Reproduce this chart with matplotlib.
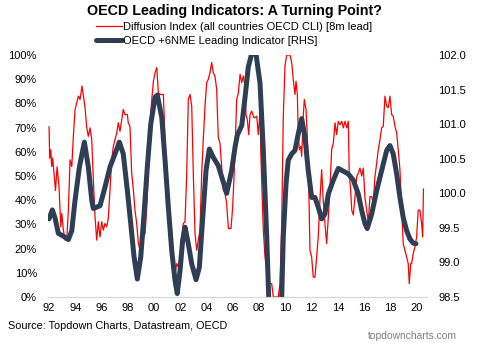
import matplotlib
matplotlib.use("Agg")
import matplotlib.pyplot as plt
from matplotlib.ticker import FuncFormatter

plt.rcParams['font.family'] = ['Liberation Sans', 'DejaVu Sans']

# diffusion index (% of countries)
diff_years = [1992.0, 1992.05, 1992.13, 1992.2, 1992.28, 1992.33, 1992.49, 1992.61, 1992.76,
              1992.89, 1992.97, 1993.09, 1993.22, 1993.35, 1993.47, 1993.6, 1993.73, 1993.85,
              1993.98, 1994.23, 1994.36, 1994.51, 1994.74, 1994.87, 1994.99, 1995.12, 1995.25,
              1995.37, 1995.5, 1995.63, 1995.75, 1995.88, 1996.01, 1996.13, 1996.26, 1996.39,
              1996.51, 1996.64, 1996.77, 1996.89, 1997.02, 1997.15, 1997.27, 1997.4, 1997.53,
              1997.65, 1997.78, 1997.96, 1998.03, 1998.16, 1998.29, 1998.42, 1998.54, 1998.67,
              1998.8, 1998.93, 1999.05, 1999.18, 1999.31, 1999.44, 1999.56, 1999.69, 1999.82,
              1999.94, 2000.07, 2000.2, 2000.32, 2000.45, 2000.7, 2000.83, 2000.96, 2001.08,
              2001.21, 2001.34, 2001.46, 2001.59, 2001.72, 2001.84, 2001.97, 2002.1, 2002.22,
              2002.35, 2002.48, 2002.6, 2002.73, 2002.86, 2002.98, 2003.11, 2003.24, 2003.36,
              2003.49, 2003.62, 2003.74, 2003.87, 2004.0, 2004.12, 2004.25, 2004.38, 2004.5,
              2004.63, 2004.76, 2004.88, 2005.01, 2005.14, 2005.26, 2005.39, 2005.52, 2005.65,
              2005.85, 2005.98, 2006.08, 2006.16, 2006.28, 2006.41, 2006.54, 2006.67, 2006.79,
              2006.92, 2006.99, 2007.09, 2007.2, 2007.3, 2007.43, 2007.6, 2007.81, 2007.93,
              2008.06, 2008.12, 2008.2, 2008.31, 2008.44, 2008.61, 2008.82, 2008.95, 2009.07,
              2009.45, 2009.58, 2009.71, 2009.83, 2009.96, 2010.09, 2010.34, 2010.47, 2010.59,
              2010.72, 2010.8, 2010.9, 2010.97, 2011.05, 2011.16, 2011.23, 2011.35, 2011.43,
              2011.56, 2011.66, 2011.76, 2011.86, 2011.99, 2012.11, 2012.24, 2012.37, 2012.49,
              2012.62, 2012.75, 2012.87, 2013.0, 2013.13, 2013.26, 2013.38, 2013.51, 2013.64,
              2013.77, 2013.89, 2014.02, 2014.15, 2014.28, 2014.4, 2014.53, 2014.66, 2014.78,
              2014.85, 2014.96, 2015.04, 2015.16, 2015.29, 2015.42, 2015.54, 2015.67, 2015.8,
              2015.92, 2016.05, 2016.18, 2016.3, 2016.43, 2016.56, 2016.68, 2016.81, 2016.94,
              2017.06, 2017.19, 2017.32, 2017.44, 2017.57, 2017.7, 2017.82, 2017.95, 2018.08,
              2018.2, 2018.33, 2018.46, 2018.58, 2018.71, 2018.84, 2018.96, 2019.09, 2019.22,
              2019.34, 2019.42, 2019.53, 2019.6, 2019.72, 2019.85, 2019.98, 2020.1, 2020.23,
              2020.36, 2020.44, 2020.5]
diff_vals = [70.3, 57.4, 60.9, 53.9, 57.4, 54.0, 44.0, 53.8, 45.6,
             29.0, 34.6, 27.6, 23.5, 24.2, 35.9, 56.7, 53.9, 66.4,
             77.5, 83.0, 81.6, 87.2, 78.2, 69.9, 66.4, 69.9, 65.0,
             48.4, 33.2, 23.5, 31.1, 24.8, 31.1, 27.6, 30.4, 29.0,
             32.5, 44.2, 56.7, 62.2, 65.0, 67.8, 72.0, 68.5, 73.3,
             77.5, 75.4, 75.4, 72.0, 70.5, 51.2, 44.2, 35.9, 30.4,
             22.1, 19.3, 20.7, 24.8, 26.3, 37.3, 51.2, 72.0, 81.6,
             89.0, 92.7, 94.8, 84.4, 83.7, 83.7, 65.0, 51.2, 40.1,
             26.3, 17.9, 11.0, 9.6, 13.8, 12.4, 16.5, 24.8, 30.4,
             31.1, 51.2, 81.6, 83.7, 78.9, 51.2, 26.3, 19.3, 23.5,
             27.6, 51.2, 65.0, 78.9, 88.6, 89.9, 92.7, 96.9, 92.7,
             91.3, 85.8, 66.0, 63.6, 53.9, 44.2, 42.9, 38.7, 28.3,
             28.3, 37.3, 49.8, 60.9, 81.6, 84.4, 92.0, 88.6, 91.3,
             87.2, 75.4, 73.3, 67.1, 75.4, 76.8, 74.0, 74.7, 67.1,
             76.8, 60.0, 45.0, 27.6, 16.5, 8.2, 5.5, 5.5, 0.0,
             0.0, 5.5, 30.4, 74.7, 95.5, 100.0, 100.0, 96.9, 89.9,
             83.7, 89.2, 83.7, 67.8, 60.9, 62.2, 58.1, 74.7, 81.6,
             77.5, 66.4, 48.4, 19.3, 16.5, 8.2, 8.2, 16.5, 24.8,
             40.1, 52.6, 40.1, 30.4, 22.1, 33.2, 44.2, 60.9, 63.6,
             72.0, 67.1, 72.6, 71.2, 72.6, 69.9, 72.6, 69.9, 72.6,
             51.2, 44.2, 35.9, 33.9, 41.5, 49.8, 51.2, 53.3, 50.0,
             53.3, 41.0, 35.9, 31.0, 41.5, 41.5, 38.7, 49.8, 55.3,
             60.9, 65.0, 69.9, 70.5, 83.0, 78.9, 78.2, 83.0, 75.4,
             74.7, 70.5, 67.8, 60.9, 52.6, 35.9, 22.1, 19.3, 16.5,
             13.8, 5.5, 13.8, 13.8, 17.9, 20.7, 24.8, 35.9, 35.9,
             30.4, 24.8, 44.6]

# OECD +6NME leading indicator (RHS)
cli_years = [1992.0, 1992.25, 1992.46, 1992.71, 1993.09, 1993.47, 1993.73, 1993.98, 1994.31,
             1994.69, 1994.99, 1995.25, 1995.37, 1995.88, 1996.26, 1996.64, 1997.02, 1997.35,
             1997.65, 1997.96, 1998.22, 1998.47, 1998.72, 1998.98, 1999.23, 1999.48, 1999.74,
             2000.07, 2000.24, 2000.58, 2000.83, 2001.08, 2001.34, 2001.59, 2001.76, 2001.97,
             2002.17, 2002.35, 2002.6, 2002.86, 2003.19, 2003.44, 2003.7, 2003.95, 2004.2,
             2004.5, 2004.88, 2005.22, 2005.52, 2005.9, 2006.16, 2006.33, 2006.67, 2006.92,
             2007.17, 2007.43, 2007.6, 2007.75, 2008.06, 2008.31, 2008.57, 2008.72, 2009.2,
             2009.71, 2009.83, 2010.04, 2010.21, 2010.47, 2010.72, 2010.97, 2011.23, 2011.48,
             2011.73, 2011.99, 2012.24, 2012.49, 2012.75, 2013.0, 2013.26, 2013.64, 2014.02,
             2014.4, 2014.78, 2015.16, 2015.54, 2015.8, 2016.05, 2016.22, 2016.56, 2016.94,
             2017.32, 2017.7, 2017.95, 2018.2, 2018.46, 2018.71, 2018.96, 2019.22, 2019.47,
             2019.72, 2019.93]
cli_vals = [99.63, 99.76, 99.64, 99.42, 99.38, 99.33, 99.46, 99.90, 100.38,
            100.74, 100.38, 99.90, 99.78, 99.82, 100.09, 100.38, 100.57, 100.74,
            100.57, 100.04, 99.56, 99.08, 98.76, 99.08, 99.70, 100.38, 101.00,
            101.39, 101.42, 101.10, 100.48, 99.80, 99.17, 98.74, 98.55, 98.88,
            99.32, 99.51, 99.27, 98.98, 98.75, 98.93, 99.65, 100.33, 100.64,
            100.52, 100.40, 100.19, 100.00, 100.33, 100.67, 100.84, 100.98, 101.39,
            101.83, 102.02, 102.08, 102.02, 101.59, 100.62, 99.37, 98.50, 97.90,
            98.50, 99.37, 100.14, 100.48, 100.57, 100.62, 100.86, 101.08, 100.81,
            100.33, 99.94, 99.94, 99.80, 99.63, 99.70, 99.99, 100.19, 100.36,
            100.32, 100.28, 100.19, 99.99, 99.75, 99.56, 99.49, 99.70, 100.04,
            100.33, 100.62, 100.69, 100.57, 100.28, 99.94, 99.65, 99.46, 99.34,
            99.28, 99.27]

x_ticks = list(range(1992, 2021, 2))
x_labels = ['%02d' % (y % 100) for y in x_ticks]
left_ticks = list(range(0, 101, 10))
right_ticks = [98.5, 99.0, 99.5, 100.0, 100.5, 101.0, 101.5, 102.0]

fig = plt.figure(figsize=(4.79, 3.43), dpi=100)
ax = fig.add_axes([48 / 479, 1 - 297 / 343, 379 / 479, 242 / 343])
ax2 = ax.twinx()

red, = ax.plot(diff_years, diff_vals, color='#FF0000', lw=0.9,
               label='Diffusion Index (all countries OECD CLI) [8m lead]')
navy, = ax2.plot(cli_years, cli_vals, color='#2E3E55', lw=3.6, solid_capstyle='round',
                 label='OECD +6NME Leading Indicator [RHS]')

ax.set_xlim(1991.92, 2020.77)
ax.set_ylim(0, 100)
ax2.set_ylim(98.5, 102.0)

ax.set_xticks(x_ticks)
ax.set_xticklabels(x_labels)
ax.set_yticks(left_ticks)
ax.yaxis.set_major_formatter(FuncFormatter(lambda v, p: '%d%%' % v))
ax2.set_yticks(right_ticks)
ax2.yaxis.set_major_formatter(FuncFormatter(lambda v, p: '%.1f' % v))

for a in (ax, ax2):
    for s in ('top', 'left', 'right'):
        a.spines[s].set_visible(False)
    a.spines['bottom'].set_color('#D9D9D9')
    a.tick_params(length=0, labelsize=8, colors='black')
ax.tick_params(axis='y', pad=8)
ax.tick_params(axis='x', pad=4)
ax2.tick_params(axis='y', pad=8)

fig.text(0.49, 1 - 11 / 343, 'OECD Leading Indicators: A Turning Point?', ha='center',
         va='center', fontsize=10.3, fontweight='bold')
fig.legend(handles=[red, navy], loc='upper left', bbox_to_anchor=(96 / 479, 1 - 22 / 343),
           frameon=False, fontsize=8, handlelength=2.3, handletextpad=0.15,
           labelspacing=0.35, borderpad=0, borderaxespad=0)

fig.text(8 / 479, 1 - 326 / 343, 'Source: Topdown Charts, Datastream, OECD', ha='left',
         va='center', fontsize=7.8)
fig.text(457 / 479, 1 - 336 / 343, 'topdowncharts.com', ha='right', va='center',
         fontsize=7.4, color='#7F7F7F')

fig.savefig('out.png', dpi=100)
